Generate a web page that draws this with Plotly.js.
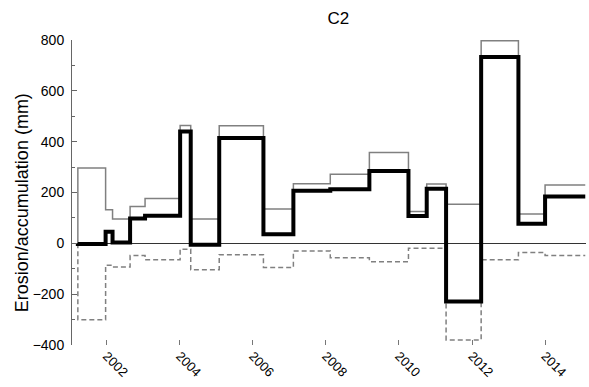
<!DOCTYPE html>
<html>
<head>
<meta charset="utf-8">
<script src="https://cdn.plot.ly/plotly-3.0.1.min.js"></script>
<style>
  html, body { margin: 0; padding: 0; background: #fff; }
  #chart { width: 589px; height: 387px; }
</style>
</head>
<body>
<div id="chart"></div>
<script>
// Survey interval start dates (decimal years); the last entry closes the final interval
const surveyDates = [2001.21, 2001.97, 2002.16, 2002.64, 2003.05, 2004.01, 2004.30, 2005.08,
  2006.29, 2007.11, 2008.12, 2009.19, 2010.26, 2010.76, 2011.29, 2012.25, 2013.27, 2014.00, 2015.10];

// Net change per interval (mm)
const netChange = [-3, 46, 3, 98, 109, 440, -6, 414, 36, 207, 213, 285, 108, 215, -229, 733, 77, 184];
// Gross accumulation per interval (mm)
const accumulation = [296, 132, 96, 145, 176, 464, 96, 463, 135, 234, 272, 357, 125, 233, 154, 797, 115, 230];
// Gross erosion per interval (mm)
const erosion = [-301, -86, -93, -48, -65, -23, -104, -45, -95, -30, -57, -72, -19, -19, -380, -65, -36, -48];

const tickYears = [2002, 2004, 2006, 2008, 2010, 2012, 2014];
const tickLabels = ['2002', '2004', '2006', '2008', '2010', '2012', '2014'];

// Build a step path that rises from zero at the first survey and holds each value to the next date
function stepSeries(values) {
  const xs = [surveyDates[0]];
  const ys = [0];
  values.forEach((v, i) => { xs.push(surveyDates[i]); ys.push(v); });
  xs.push(surveyDates[surveyDates.length - 1]);
  ys.push(values[values.length - 1]);
  return { x: xs, y: ys };
}

const acc = stepSeries(accumulation);
const ero = stepSeries(erosion);
const net = stepSeries(netChange);

const traces = [
  { x: acc.x, y: acc.y, type: 'scatter', mode: 'lines', line: { shape: 'hv', color: '#808080', width: 1.5 }, hoverinfo: 'skip' },
  { x: ero.x, y: ero.y, type: 'scatter', mode: 'lines', line: { shape: 'hv', color: '#808080', width: 1.5, dash: '5px,3px' }, hoverinfo: 'skip' },
  { x: net.x, y: net.y, type: 'scatter', mode: 'lines', line: { shape: 'hv', color: '#000000', width: 4 }, hoverinfo: 'skip' }
];

const font = { family: 'Liberation Sans, Arial, sans-serif', color: '#000' };

const layout = {
  width: 589,
  height: 387,
  margin: { l: 72, r: 3, t: 40, b: 42, pad: 0 },
  paper_bgcolor: '#fff',
  plot_bgcolor: '#fff',
  showlegend: false,
  font: font,
  title: {
    text: 'C2',
    font: { family: font.family, size: 17, color: '#000' },
    xref: 'paper', x: 0.518, xanchor: 'center',
    yref: 'container', y: 0.953, yanchor: 'middle'
  },
  xaxis: {
    range: [2001.05, 2015.12],
    showgrid: false,
    zeroline: false,
    showline: false,
    tickmode: 'array',
    tickvals: tickYears,
    ticktext: tickLabels,
    ticks: 'inside',
    ticklen: 5,
    tickwidth: 1,
    tickcolor: '#777',
    tickangle: 45,
    tickfont: { family: font.family, size: 13, color: '#000' }
  },
  yaxis: {
    range: [-400, 800],
    showgrid: false,
    zeroline: true,
    zerolinecolor: '#333',
    zerolinewidth: 1,
    showline: true,
    linecolor: '#666',
    linewidth: 1,
    tickmode: 'linear',
    tick0: -400,
    dtick: 200,
    ticks: 'inside',
    ticklen: 5,
    tickwidth: 1,
    tickcolor: '#666',
    minor: { ticks: 'inside', dtick: 100, tick0: -400, ticklen: 3, tickcolor: '#666', tickwidth: 1, showgrid: false },
    tickfont: { family: font.family, size: 14, color: '#000' },
    ticklabelstandoff: 4
  },
  annotations: [{
    text: 'Erosion/accumulation (mm)',
    textangle: -90,
    showarrow: false,
    xref: 'paper', yref: 'paper',
    x: (21.7 - 72) / 514, y: (345 - 202.5) / 305,
    xanchor: 'center', yanchor: 'middle',
    font: { family: font.family, size: 18, color: '#000' }
  }]
};

Plotly.newPlot('chart', traces, layout, { displayModeBar: false, staticPlot: true });
</script>
</body>
</html>
